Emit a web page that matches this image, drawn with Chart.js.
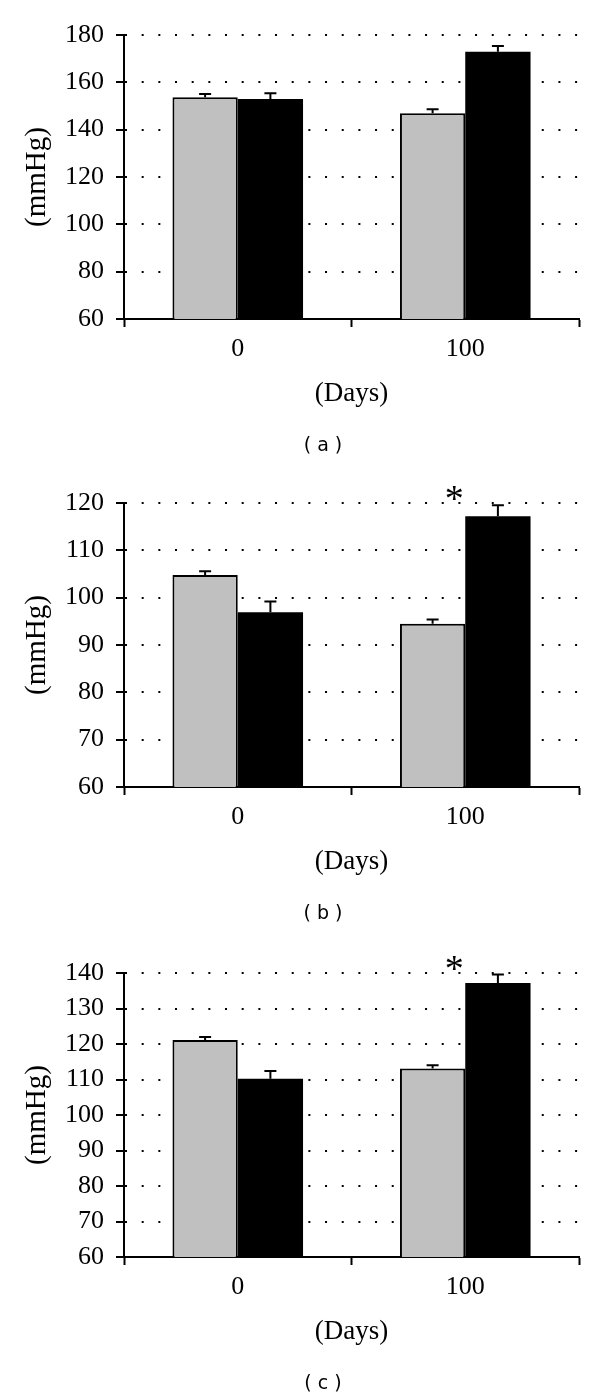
<!DOCTYPE html>
<html>
<head>
<meta charset="utf-8">
<script src="https://cdn.jsdelivr.net/npm/chart.js@4.4.1/dist/chart.umd.min.js"></script>
<style>
  html, body { margin: 0; padding: 0; background: #fff; }
  #wrap { position: relative; width: 600px; height: 1398px; overflow: hidden; }
  .panel { position: absolute; left: 0; width: 600px; height: 468px; }
  .plabel { position: absolute; width: 100px; text-align: center; font-family: "DejaVu Sans", sans-serif; font-size: 19px; color: #000; line-height: 22px; white-space: pre; }
</style>
</head>
<body>
<div id="wrap">
  <div class="panel" style="top:0px"><canvas id="cA" width="600" height="468"></canvas></div>
  <div class="panel" style="top:468px"><canvas id="cB" width="600" height="468"></canvas></div>
  <div class="panel" style="top:938px"><canvas id="cC" width="600" height="468"></canvas></div>
  <div class="plabel" style="left:273px; top:433px">( a )</div>
  <div class="plabel" style="left:273px; top:901px">( b )</div>
  <div class="plabel" style="left:273px; top:1371px">( c )</div>
</div>
<script>
// ---- data ----
const categories = ['0', '100'];

const aGray = [153.7, 146.9];
const aBlack = [153.0, 172.9];
const aGrayErr = [1.4, 1.7];
const aBlackErr = [2.4, 2.5];
const aTicks = [60, 80, 100, 120, 140, 160, 180];

const bGray = [104.8, 94.5];
const bBlack = [96.9, 117.2];
const bGrayErr = [0.8, 0.9];
const bBlackErr = [2.3, 2.3];
const bTicks = [60, 70, 80, 90, 100, 110, 120];

const cGray = [121.1, 113.1];
const cBlack = [110.2, 137.2];
const cGrayErr = [0.9, 0.9];
const cBlackErr = [2.2, 2.4];
const cTicks = [60, 70, 80, 90, 100, 110, 120, 130, 140];

const yTitle = '(mmHg)';
const xTitle = '(Days)';
const sigMark = '*';

// ---- plugins ----
const errorBarPlugin = {
  id: 'errorBars',
  afterDatasetsDraw(chart) {
    const ctx = chart.ctx;
    const yScale = chart.scales.y;
    chart.data.datasets.forEach((ds, i) => {
      const meta = chart.getDatasetMeta(i);
      meta.data.forEach((bar, j) => {
        const top = yScale.getPixelForValue(ds.data[j] + ds.err[j]);
        const x = bar.x;
        ctx.save();
        ctx.strokeStyle = '#000';
        ctx.lineWidth = 2;
        ctx.beginPath();
        ctx.moveTo(x, bar.y);
        ctx.lineTo(x, top);
        ctx.moveTo(x - 6, top);
        ctx.lineTo(x + 6, top);
        ctx.stroke();
        ctx.restore();
      });
    });
  }
};

const sigPlugin = {
  id: 'sig',
  afterDatasetsDraw(chart, args, opts) {
    if (!opts || !opts.show) return;
    const ctx = chart.ctx;
    const x = chart.scales.x.getPixelForValue(opts.index) - 11;
    const y = chart.chartArea.top - 2;
    ctx.save();
    ctx.fillStyle = '#000';
    ctx.font = '38px "Liberation Serif", serif';
    ctx.textAlign = 'center';
    ctx.textBaseline = 'middle';
    ctx.fillText(sigMark, x, y);
    ctx.restore();
  }
};

function makeChart(id, gray, black, grayErr, blackErr, ticks, showSig) {
  const yMin = ticks[0], yMax = ticks[ticks.length - 1];
  const step = ticks[1] - ticks[0];
  return new Chart(document.getElementById(id), {
    type: 'bar',
    data: {
      labels: categories,
      datasets: [
        { data: gray, err: grayErr, backgroundColor: '#c0c0c0', borderColor: '#000', borderWidth: 2, borderSkipped: 'bottom' },
        { data: black, err: blackErr, backgroundColor: '#000', borderColor: '#000', borderWidth: 0 }
      ]
    },
    options: {
      responsive: false,
      animation: false,
      devicePixelRatio: 1,
      layout: { padding: { left: 0, top: 35, right: 21, bottom: 0 } },
      plugins: {
        legend: { display: false },
        tooltip: { enabled: false },
        title: { display: false },
        sig: { show: showSig, index: 1 }
      },
      datasets: { bar: { categoryPercentage: 0.574, barPercentage: 1.0 } },
      scales: {
        x: {
          type: 'category',
          grid: { display: true, drawOnChartArea: false, drawTicks: true, offset: true, tickLength: 8, tickColor: '#000', tickWidth: 2 },
          border: { display: true, color: '#000', width: 2 },
          ticks: { color: '#000', padding: 7, font: { family: '"Liberation Serif", serif', size: 26 } },
          title: { display: true, text: xTitle, color: '#000', font: { family: '"Liberation Serif", serif', size: 27 }, padding: { top: 0, bottom: 58 } },
          afterFit(scale) { scale.height = 149; }
        },
        y: {
          type: 'linear',
          min: yMin, max: yMax,
          afterBuildTicks(scale) { scale.ticks = ticks.map(v => ({ value: v })); },
          grid: { display: true, drawOnChartArea: true, drawTicks: true, tickLength: 8, tickColor: '#000', tickWidth: 2, color: '#000', lineWidth: 2 },
          border: { display: true, color: '#000', width: 2, dash: [2, 14.67], dashOffset: 0 },
          ticks: { color: '#000', padding: 12, stepSize: step, font: { family: '"Liberation Serif", serif', size: 26 } },
          title: { display: true, text: yTitle, color: '#000', font: { family: '"Liberation Serif", serif', size: 29 }, padding: { top: 20, bottom: 0 } },
          afterFit(scale) { scale.width = 124; }
        }
      }
    },
    plugins: [errorBarPlugin, sigPlugin]
  });
}

makeChart('cA', aGray, aBlack, aGrayErr, aBlackErr, aTicks, false);
makeChart('cB', bGray, bBlack, bGrayErr, bBlackErr, bTicks, true);
makeChart('cC', cGray, cBlack, cGrayErr, cBlackErr, cTicks, true);
</script>
</body>
</html>
